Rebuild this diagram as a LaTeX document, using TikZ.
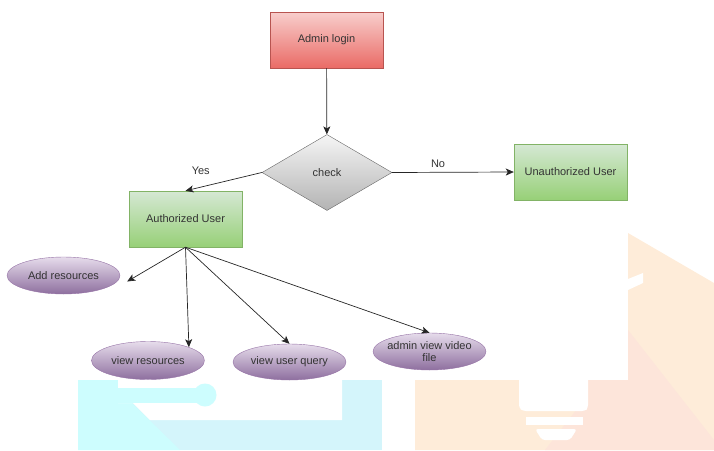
\documentclass[tikz,border=0pt]{standalone}
\usepackage{fontspec}
\setmainfont{Liberation Sans}
\usetikzlibrary{arrows.meta,shapes.geometric,calc}

\definecolor{pinktop}{HTML}{F8CECC}
\definecolor{pinkbot}{HTML}{EA6B66}
\definecolor{pinkline}{HTML}{B85450}
\definecolor{greentop}{HTML}{D5E8D4}
\definecolor{greenbot}{HTML}{97D077}
\definecolor{greenline}{HTML}{82B366}
\definecolor{graytop}{HTML}{F5F5F5}
\definecolor{graybot}{HTML}{B3B3B3}
\definecolor{grayline}{HTML}{666666}
\definecolor{purptop}{HTML}{E6DCEB}
\definecolor{purpbot}{HTML}{8E6F9F}
\definecolor{purpline}{HTML}{9673A6}
\definecolor{txt}{HTML}{333333}
\definecolor{cyanA}{HTML}{CDFDFE}
\definecolor{cyanB}{HTML}{D4F5FB}
\definecolor{peachA}{HTML}{FEECD9}
\definecolor{peachB}{HTML}{FDE5DA}

\tikzset{
  box/.style={rectangle, minimum width=113pt, minimum height=56pt, inner sep=0pt,
    text=txt, shading=axis},
  loginbox/.style={box, draw=pinkline, top color=pinktop, bottom color=pinkbot},
  userbox/.style={box, draw=greenline, top color=greentop, bottom color=greenbot},
  decision/.style={diamond, minimum width=130pt, minimum height=76pt, inner sep=0pt,
    aspect=1.7, draw=grayline, top color=graytop, bottom color=graybot, text=txt},
  usecase/.style={ellipse, minimum width=113pt, minimum height=37pt, inner sep=0pt,
    draw=purpline, top color=purptop, bottom color=purpbot, text=txt, align=center},
  flow/.style={draw=black!85, line width=0.7pt, -{Stealth[length=8pt,width=7pt,inset=2pt]}},
  edgelabel/.style={text=txt, inner sep=0pt}
}

\begin{document}
\begin{tikzpicture}[x=1pt, y=-1pt, font=\fontsize{11}{13}\selectfont]
\useasboundingbox (0,0) rectangle (714,450);

% faint background emblem, left part
\fill[cyanB] (78,380) rectangle (382,450);
\fill[cyanA] (78,380) -- (118,380) -- (118,403) -- (132,403) -- (180,450) -- (78,450) -- cycle;
\fill[white] (118,380) -- (342,380) -- (342,420) -- (150,420) -- (133,403) -- (118,403) -- cycle;
\fill[cyanA] (118,388) rectangle (204,403);
\fill[cyanA] (205,395) circle (11.5);

% faint background emblem, right part (bulb outline)
\fill[peachA] (415,380) -- (628,380) -- (628,233) -- (714,283) -- (714,450) -- (415,450) -- cycle;
\fill[peachB] (588,380) -- (628,380) -- (628,330) -- (714,440) -- (714,450) -- (545,450) -- (588,395) -- cycle;
\fill[white] (628,279) -- (643,273) -- (643,283) -- (628,290) -- cycle;
\fill[white, rounded corners=3pt] (519,375) -- (519,408) -- (523,411) -- (585,411) -- (588,408) -- (588,375) -- cycle;
\fill[white] (519,375) rectangle (588,385);
\fill[white] (526,417) rectangle (583,425);
\fill[white, rounded corners=3pt] (535,429) -- (577,429) -- (570,440) -- (542,440) -- cycle;

% flowchart nodes
\node[loginbox] (admin) at (326.5,40) {Admin login};
\node[decision] (check) at (327,172.5) {check};
\node[userbox] (unauth) at (570.5,172) {Unauthorized User};
\node[userbox] (auth) at (185.5,219) {Authorized User};

\node[usecase] (addres) at (63.5,275.5) {Add resources};
\node[usecase, minimum height=38pt] (vres) at (148,360.5) {view resources};
\node[usecase, minimum height=36pt] (vuq) at (289.5,362) {view user query};
\node[usecase, inner xsep=-12pt, inner ysep=-3pt, font=\fontsize{11}{12}\selectfont]
  (avvf) at (429.5,351.5) {admin view video\\file};

\coordinate (addtip) at ($(addres.east)+(7,6)$);

% connectors
\draw[flow] (admin) -- (check);
\draw[flow] (check.east) -- node[edgelabel, pos=0.377, yshift=9pt] {No} (unauth.west);
\draw[flow] (check.west) -- node[edgelabel, pos=0.8, yshift=16pt] {Yes} (auth.north);

\draw[flow] (auth.south) -- (addtip);
\draw[flow] (auth.south) -- (vres.18);
\draw[flow] (auth.south) -- (vuq.north);
\draw[flow] (auth.south) -- (avvf.north);
\end{tikzpicture}
\end{document}
